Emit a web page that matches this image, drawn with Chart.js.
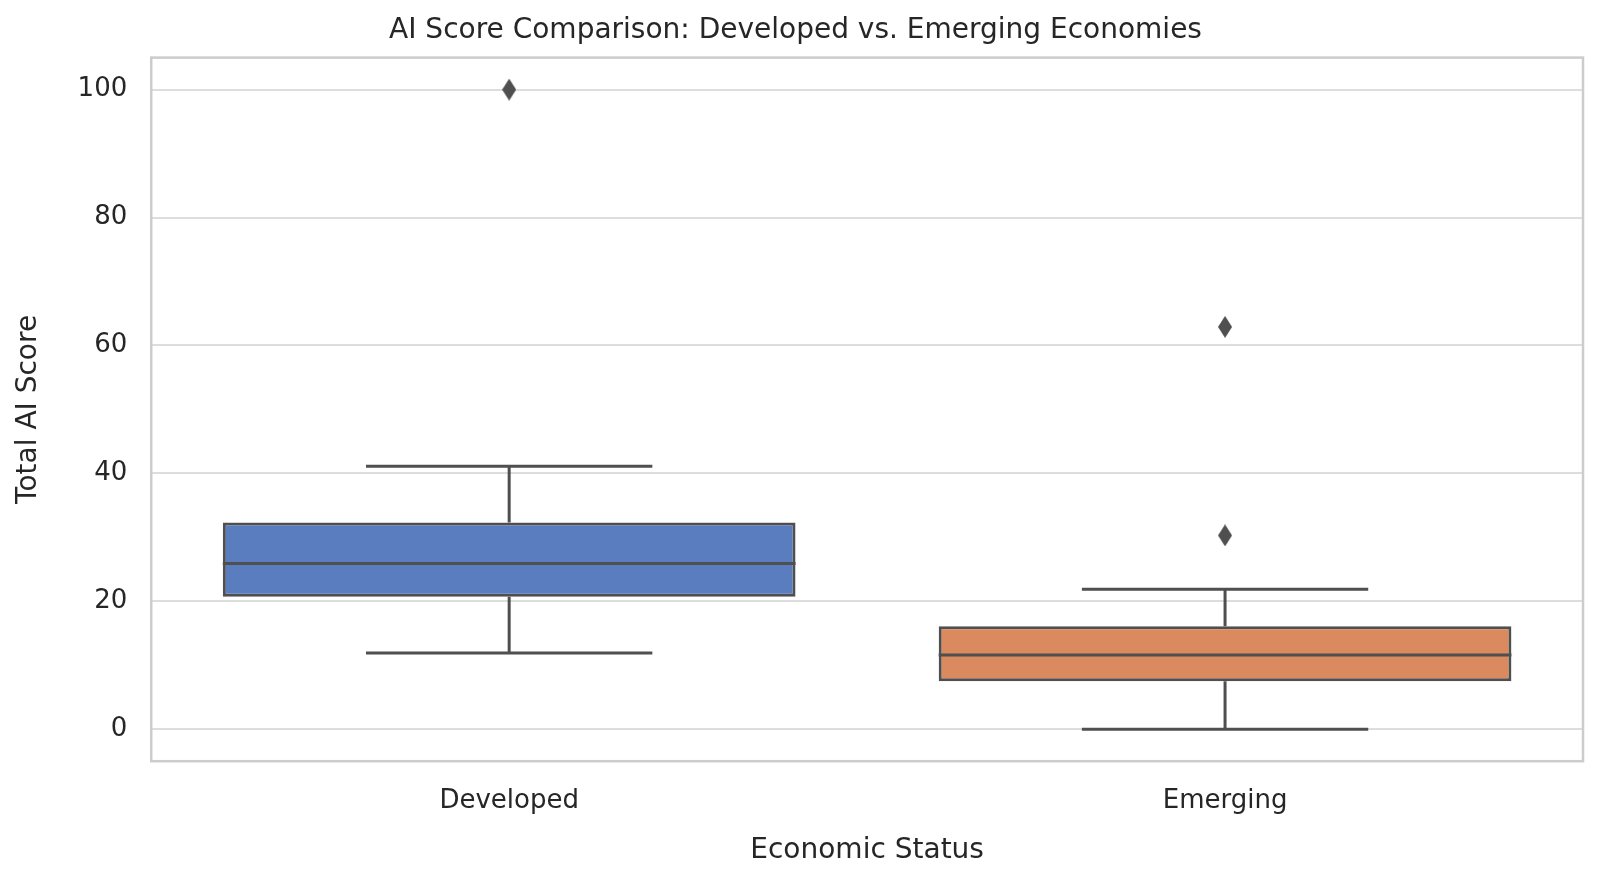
<!DOCTYPE html>
<html><head><meta charset="utf-8">
<script src="https://cdn.jsdelivr.net/npm/chart.js@4/dist/chart.umd.min.js"></script>
<style>html,body{margin:0;background:#fff}#w{width:1600px;height:886px}</style>
</head><body><div id="w"><canvas id="c"></canvas></div>
<script>
const categories = ['Developed', 'Emerging'];
const q1 = [20.7, 7.5];
const q3 = [32.3, 16.1];
const medians = [25.9, 11.6];
const whiskerLow = [11.9, 0];
const whiskerHigh = [41.1, 21.9];
const outliers = [[100], [62.9, 30.3]];
const colors = ['#5a7dbf', '#da8a5e'];
const yTicks = [0, 20, 40, 60, 80, 100];
const edge = '#4f4f4f';

const dia = document.createElement('canvas');
dia.width = 14; dia.height = 22;
(() => { const g = dia.getContext('2d'); g.fillStyle = edge; g.beginPath();
  g.moveTo(7, 0); g.lineTo(14, 11); g.lineTo(7, 22); g.lineTo(0, 11); g.closePath(); g.fill(); })();

const boxPlugin = {
  id: 'boxParts',
  beforeDatasetsDraw(chart) {
    const {ctx, scales: {x, y}} = chart;
    ctx.save();
    ctx.strokeStyle = edge; ctx.lineWidth = 3;
    categories.forEach((c, i) => {
      const cx = x.getPixelForValue(i);
      const capL = x.getPixelForValue(i - 0.2), capR = x.getPixelForValue(i + 0.2);
      ctx.beginPath();
      ctx.moveTo(cx, y.getPixelForValue(whiskerLow[i])); ctx.lineTo(cx, y.getPixelForValue(q1[i]));
      ctx.moveTo(cx, y.getPixelForValue(q3[i])); ctx.lineTo(cx, y.getPixelForValue(whiskerHigh[i]));
      ctx.moveTo(capL, y.getPixelForValue(whiskerLow[i])); ctx.lineTo(capR, y.getPixelForValue(whiskerLow[i]));
      ctx.moveTo(capL, y.getPixelForValue(whiskerHigh[i])); ctx.lineTo(capR, y.getPixelForValue(whiskerHigh[i]));
      ctx.stroke();
    });
    ctx.restore();
  },
  afterDatasetsDraw(chart) {
    const {ctx, chartArea: a, scales: {x, y}} = chart;
    ctx.save();
    ctx.strokeStyle = edge; ctx.lineWidth = 3;
    categories.forEach((c, i) => {
      const l = x.getPixelForValue(i - 0.4), r = x.getPixelForValue(i + 0.4);
      const my = y.getPixelForValue(medians[i]);
      ctx.beginPath(); ctx.moveTo(l, my); ctx.lineTo(r, my); ctx.stroke();
    });
    ctx.strokeStyle = '#cccccc'; ctx.lineWidth = 2.5;
    ctx.strokeRect(a.left, a.top, a.right - a.left, a.bottom - a.top);
    ctx.restore();
  }
};

const outlierData = [];
outliers.forEach((arr, i) => arr.forEach(v => outlierData.push({x: categories[i], y: v})));

new Chart(document.getElementById('c'), {
  data: {
    labels: categories,
    datasets: [
      {type: 'bar', data: categories.map((c, i) => [q1[i], q3[i]]), backgroundColor: colors,
       borderColor: edge, borderWidth: 3, borderSkipped: false, barPercentage: 0.8, categoryPercentage: 1},
      {type: 'scatter', data: outlierData, pointStyle: dia, pointRadius: 8}
    ]
  },
  options: {
    responsive: true, maintainAspectRatio: false, animation: false,
    layout: {padding: {left: 8, right: 17, top: 0, bottom: 14}},
    plugins: {
      legend: {display: false}, tooltip: {enabled: false},
      title: {display: true, text: 'AI Score Comparison: Developed vs. Emerging Economies',
        color: '#262626', font: {family: 'DejaVu Sans', size: 28, weight: 'normal'}, padding: {top: 14, bottom: 10}}
    },
    scales: {
      x: {type: 'category', offset: true, grid: {display: false}, border: {display: false},
        ticks: {color: '#262626', font: {family: 'DejaVu Sans', size: 26}, padding: 16},
        title: {display: true, text: 'Economic Status', color: '#262626', font: {family: 'DejaVu Sans', size: 28}, padding: {top: 2}}},
      y: {min: -5, max: 105, afterBuildTicks: s => { s.ticks = yTicks.map(v => ({value: v})); },
        grid: {color: '#dddddd', lineWidth: 2, drawTicks: false}, border: {display: false},
        ticks: {color: '#262626', font: {family: 'DejaVu Sans', size: 26}, padding: 24},
        title: {display: true, text: 'Total AI Score', color: '#262626', font: {family: 'DejaVu Sans', size: 28}, padding: {bottom: 8}}}
    }
  },
  plugins: [boxPlugin]
});
</script></body></html>
